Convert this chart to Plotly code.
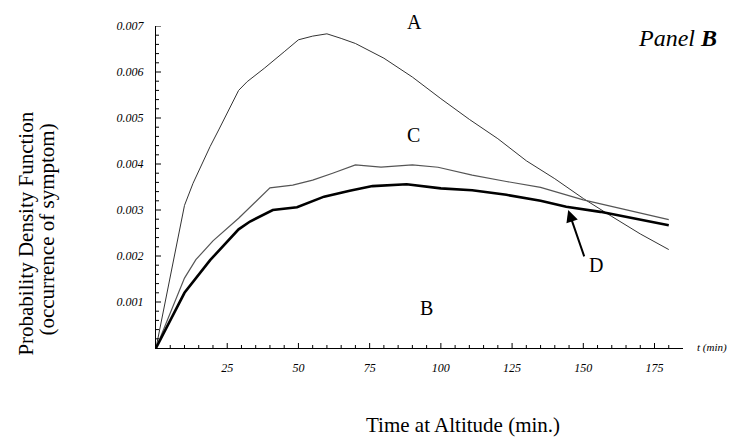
import plotly.graph_objects as go

# Curve A
t_a = [0, 10, 13, 16, 19, 22, 25, 29, 32, 38, 45, 50, 55, 60, 65, 70, 80, 90, 100, 110, 120, 130, 140, 150, 160, 170, 180]
v_a = [0, 0.00310, 0.00358, 0.00398, 0.00438, 0.00474, 0.00510, 0.00560, 0.00579, 0.00608, 0.00644, 0.00670, 0.00678, 0.00683,
       0.00673, 0.00662, 0.00630, 0.00589, 0.00542, 0.00497, 0.00455, 0.00407, 0.00368, 0.00325, 0.00286, 0.00248, 0.00214]
# Curve C
t_c = [0, 10, 14, 20, 29, 40, 48, 55, 62, 70, 79, 90, 99, 111, 123, 135, 150, 165, 180]
v_c = [0, 0.00152, 0.00192, 0.00233, 0.00282, 0.00348, 0.00354, 0.00365, 0.00380, 0.00398, 0.00393, 0.00398, 0.00393,
       0.00376, 0.00362, 0.00349, 0.00322, 0.00300, 0.00279]
# Curve D
t_d = [0, 10, 19, 29, 33, 41, 49.5, 59, 68, 76, 88, 100, 111, 123, 135, 144, 156, 168, 180]
v_d = [0, 0.00120, 0.00191, 0.00258, 0.00275, 0.00300, 0.00306, 0.00329, 0.00342, 0.00352, 0.00356, 0.00347, 0.00343,
       0.00333, 0.00320, 0.00307, 0.00296, 0.00282, 0.00267]

x_ticks = [25, 50, 75, 100, 125, 150, 175]
y_ticks = [0.001, 0.002, 0.003, 0.004, 0.005, 0.006, 0.007]
x_minor = [v for v in range(5, 185, 5) if v not in x_ticks]
y_minor = [round(i * 0.0002, 4) for i in range(1, 36) if round(i * 0.0002, 4) not in y_ticks]

X_RANGE = [0, 185]
Y_RANGE = [0, 0.007]
PLOT_W, PLOT_H = 527.5, 322  # plot area size in px

SERIF = "Liberation Serif"

fig = go.Figure()
fig.add_trace(go.Scatter(x=t_a, y=v_a, mode="lines", line=dict(color="#333333", width=1), showlegend=False))
fig.add_trace(go.Scatter(x=t_c, y=v_c, mode="lines", line=dict(color="#555555", width=1.2), showlegend=False))
fig.add_trace(go.Scatter(x=t_d, y=v_d, mode="lines", line=dict(color="#000000", width=2.6), showlegend=False))


def x_tick_trace(vals, length_px):
    dy = length_px * (Y_RANGE[1] - Y_RANGE[0]) / PLOT_H
    xs, ys = [], []
    for v in vals:
        xs += [v, v, None]
        ys += [Y_RANGE[0], Y_RANGE[0] + dy, None]
    fig.add_trace(go.Scatter(x=xs, y=ys, mode="lines", line=dict(color="black", width=1),
                             showlegend=False, hoverinfo="skip"))


def y_tick_trace(vals, length_px):
    dx = length_px * (X_RANGE[1] - X_RANGE[0]) / PLOT_W
    xs, ys = [], []
    for v in vals:
        xs += [X_RANGE[0], X_RANGE[0] + dx, None]
        ys += [v, v, None]
    fig.add_trace(go.Scatter(x=xs, y=ys, mode="lines", line=dict(color="black", width=1),
                             showlegend=False, hoverinfo="skip"))


x_tick_trace(x_ticks, 5)
x_tick_trace(x_minor, 3)
y_tick_trace(y_ticks, 5)
y_tick_trace(y_minor, 3)

common = dict(showline=True, linecolor="black", linewidth=1, showgrid=False, zeroline=False, ticks="")

fig.update_layout(
    template="none",
    width=730, height=437,
    margin=dict(l=155.5, r=47, t=26, b=89),
    paper_bgcolor="white", plot_bgcolor="white",
    font=dict(family=SERIF, color="black"),
    xaxis=dict(range=X_RANGE, tickmode="array", tickvals=x_ticks, ticktext=[str(v) for v in x_ticks],
               ticklabelstandoff=9, tickfont=dict(family=SERIF, size=12, style="italic"), **common),
    yaxis=dict(range=Y_RANGE, tickmode="array", tickvals=y_ticks, ticktext=["%.3f" % v for v in y_ticks],
               ticklabelstandoff=9, tickfont=dict(family=SERIF, size=12, style="italic"), **common),
)

def px_x(px):
    return (px - 155.5) / PLOT_W

def px_y(py):
    return (348 - py) / PLOT_H

def label(text, px, py, size=20, xanchor="center", **kw):
    fig.add_annotation(x=px_x(px), y=px_y(py), xref="paper", yref="paper", text=text, showarrow=False,
                       xanchor=xanchor, yanchor="middle",
                       font=dict(family=SERIF, size=size, color="black"), **kw)

label("A", 414, 22)
label("C", 413, 135)
label("B", 426, 308)
label("D", 596, 265)
label("<i>Panel <b>B</b></i>", 677, 38, size=24)
label("<i>t (min)</i>", 695, 347, size=11, xanchor="left")

# arrow to curve D
fig.add_annotation(x=144.7, y=0.00300, ax=150.5, ay=0.00196, xref="x", yref="y", axref="x", ayref="y",
                   text="", showarrow=True, arrowhead=2, arrowsize=1.2, arrowwidth=2, arrowcolor="black")

# axis titles
label("Probability Density Function", 25, 234, size=21, textangle=-90)
label("(occurrence of symptom)", 46, 230, size=21, textangle=-90)
label("Time at Altitude (min.)", 463, 425, size=21)

fig.write_html("out.html", config={"displayModeBar": False})

with open("out.html", "r", encoding="utf-8") as f:
    html = f.read()
html = html.replace("<head>", "<head><style>html,body{margin:0;padding:0;overflow:hidden;}</style>", 1)
with open("out.html", "w", encoding="utf-8") as f:
    f.write(html)
